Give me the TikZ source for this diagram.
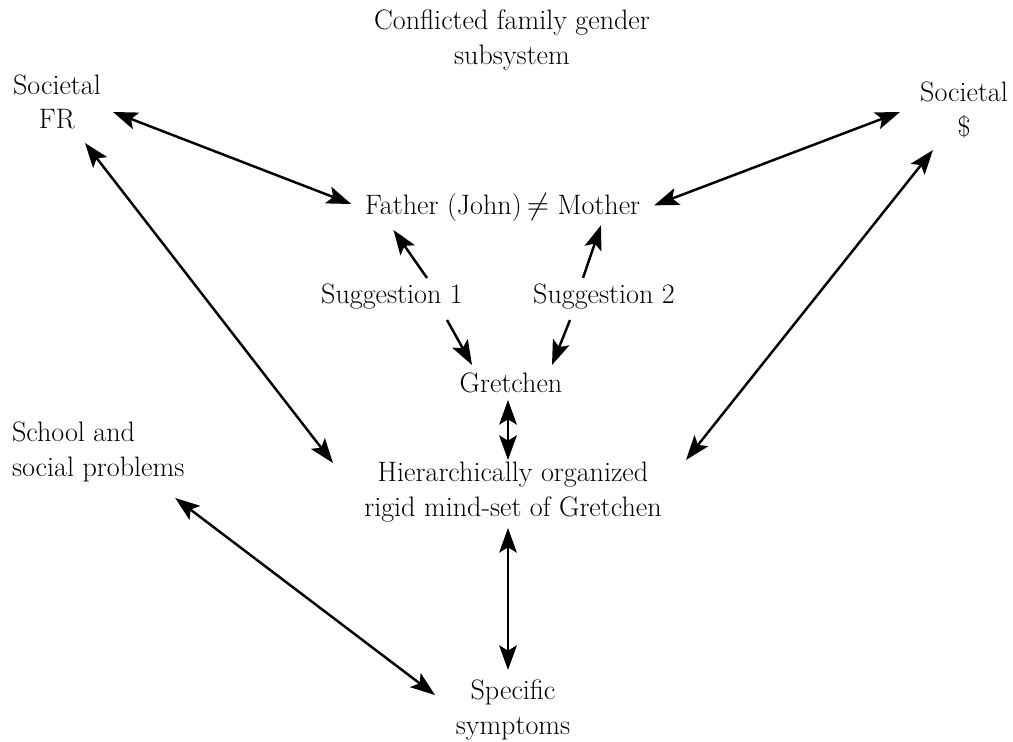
\documentclass[tikz,border=0pt]{standalone}
\usepackage{amsmath,amssymb}
\usepackage{tikz}
\usetikzlibrary{positioning,arrows.meta,calc}

\begin{document}
\begin{tikzpicture}[
    x=0.02cm, y=-0.02cm,
    txt/.style={
        inner sep=0pt,
        outer sep=0pt,
        align=center,
        font=\fontsize{16}{19.5}\selectfont
    },
    link/.style={line width=1.4pt},
    >={Stealth[length=14pt,width=10pt,inset=3pt]}
]

\useasboundingbox (0,0) rectangle (1013,742);

\node[txt] (title) at (512,40) {
    Conflicted family gender\\
    subsystem
};

\node[txt] (fr) at (57,102) {
    Societal\\
    FR
};

\node[txt] (dollar) at (964,110) {
    Societal\\
    \$
};

\node[txt, anchor=base] (neq) at (538,215) {$\neq$};
\node[txt, base left=3pt of neq] (father) {Father (John)};
\node[txt, base right=5pt of neq] (mother) {Mother};

\node[txt] (sug1) at (392,297) {Suggestion 1};
\node[txt] (sug2) at (604,297) {Suggestion 2};

\node[txt] (gret) at (511,383) {Gretchen};

\node[txt] (hier) at (513,492) {
    Hierarchically organized\\
    rigid mind-set of Gretchen
};

\node[txt, align=left, anchor=west] (school) at (12,452) {
    School and\\
    social problems
};

\node[txt] (spec) at (513,710) {
    Specific\\
    symptoms
};

\draw[<->,link] ($(fr)+(56,10)$) -- ($(father.west)+(-14,-4)$);
\draw[<->,link] ($(dollar)+(-64,2)$) -- ($(mother.east)+(14,0)$);
\draw[<->,link] ($(fr)+(28,41)$) -- ($(hier)+(-180,-29)$);
\draw[<->,link] ($(dollar)+(-31,40)$) -- ($(hier)+(173,-32)$);

\draw[->,link] ($(sug1)+(35,-19)$) -- ($(father.south)+(-50,8)$);
\draw[->,link] ($(sug1)+(55,23)$) -- ($(gret)+(-39,-18)$);
\draw[->,link] ($(sug2)+(-21,-19)$) -- ($(mother.south)+(2,10)$);
\draw[->,link] ($(sug2)+(-34,23)$) -- ($(gret)+(41,-18)$);

\draw[<->,link] ($(gret)+(-3,17)$) -- ($(hier)+(-5,-32)$);
\draw[<->,link] ($(hier)+(-5,36)$) -- ($(spec)+(-5,-40)$);
\draw[<->,link] ($(school)+(77,46)$) -- ($(spec)+(-78,-15)$);

\end{tikzpicture}
\end{document}
